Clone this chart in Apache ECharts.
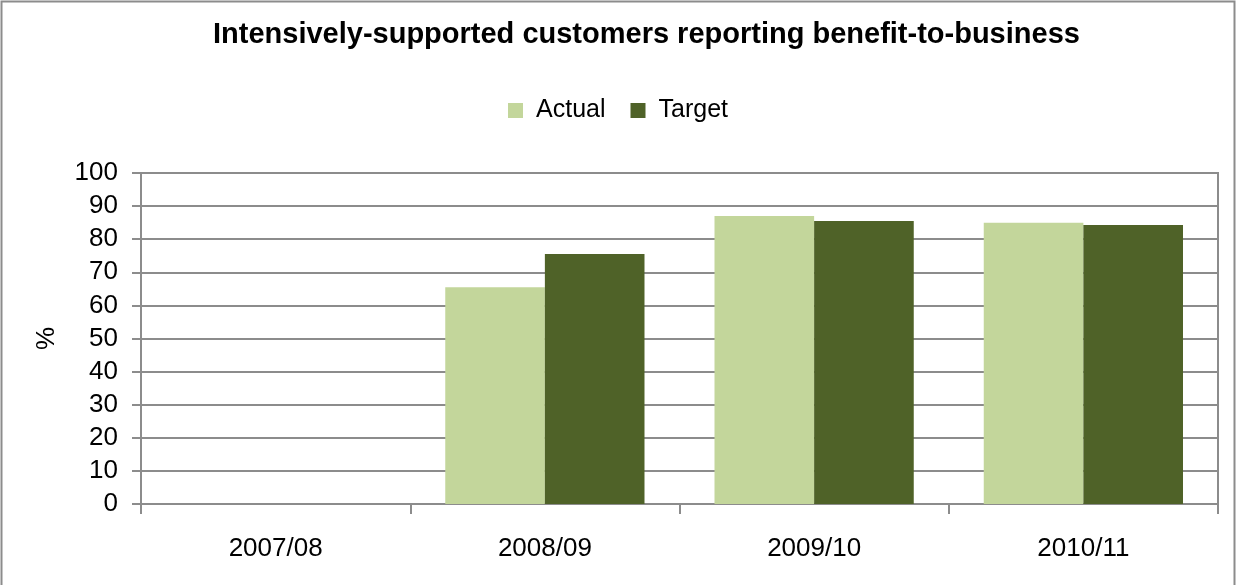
<!DOCTYPE html>
<html>
<head>
<meta charset="utf-8">
<script src="https://cdn.jsdelivr.net/npm/echarts@6/dist/echarts.min.js"></script>
<style>
  html, body { margin: 0; padding: 0; background: #fff; }
  #chart { width: 1236px; height: 585px; }
</style>
</head>
<body>
<div id="chart"></div>
<script>
const categories = ['2007/08', '2008/09', '2009/10', '2010/11'];
const actualValues = [null, 65.5, 87, 85];
const targetValues = [null, 75.5, 85.5, 84.3];
const yTicks = { min: 0, max: 100, interval: 10 };

const FONT = '"Liberation Sans", Arial, sans-serif';
const GRID_GREY = '#8c8c8c';

const chart = echarts.init(document.getElementById('chart'), null, { renderer: 'canvas' });

chart.setOption({
  backgroundColor: '#ffffff',
  animation: false,
  title: {
    text: 'Intensively-supported customers reporting benefit-to-business',
    left: 208,
    top: 15,
    textStyle: { fontFamily: FONT, fontSize: 29, fontWeight: 'bold', color: '#000' }
  },
  legend: {
    data: ['Actual', 'Target'],
    left: 'center',
    top: 93,
    itemWidth: 15,
    itemHeight: 15,
    itemGap: 25,
    icon: 'rect',
    textStyle: { fontFamily: FONT, fontSize: 25, color: '#000', padding: [0, 0, 0, 8] }
  },
  graphic: [{
    type: 'rect',
    silent: true,
    shape: { x: 1.5, y: 1.5, width: 1233, height: 620 },
    style: { fill: null, stroke: '#8c8c8c', lineWidth: 2 }
  }],
  grid: { left: 141, right: 18, top: 173, bottom: 81, show: true, borderColor: GRID_GREY, borderWidth: 2 },
  xAxis: {
    type: 'category',
    data: categories,
    axisLine: { lineStyle: { color: GRID_GREY, width: 2 } },
    axisTick: { show: true, length: 10, alignWithLabel: false, lineStyle: { color: GRID_GREY, width: 2 } },
    axisLabel: { fontFamily: FONT, fontSize: 26, color: '#000', margin: 32 },
    splitLine: { show: false }
  },
  yAxis: {
    type: 'value',
    min: yTicks.min,
    max: yTicks.max,
    interval: yTicks.interval,
    name: '%',
    nameLocation: 'middle',
    nameGap: 81,
    nameRotate: 90,
    nameTextStyle: { fontFamily: FONT, fontSize: 26, color: '#000' },
    axisLine: { show: true, lineStyle: { color: GRID_GREY, width: 2 } },
    axisTick: { show: true, length: 9, lineStyle: { color: GRID_GREY, width: 2 } },
    axisLabel: { fontFamily: FONT, fontSize: 26, color: '#000', margin: 23 },
    splitLine: { show: true, lineStyle: { color: GRID_GREY, width: 2 } }
  },
  series: [
    {
      name: 'Actual',
      type: 'bar',
      data: actualValues,
      itemStyle: { color: '#c3d69b' },
      barGap: '0%',
      barCategoryGap: '26%'
    },
    {
      name: 'Target',
      type: 'bar',
      data: targetValues,
      itemStyle: { color: '#4f6228' },
      barGap: '0%',
      barCategoryGap: '26%'
    }
  ]
});
</script>
</body>
</html>
